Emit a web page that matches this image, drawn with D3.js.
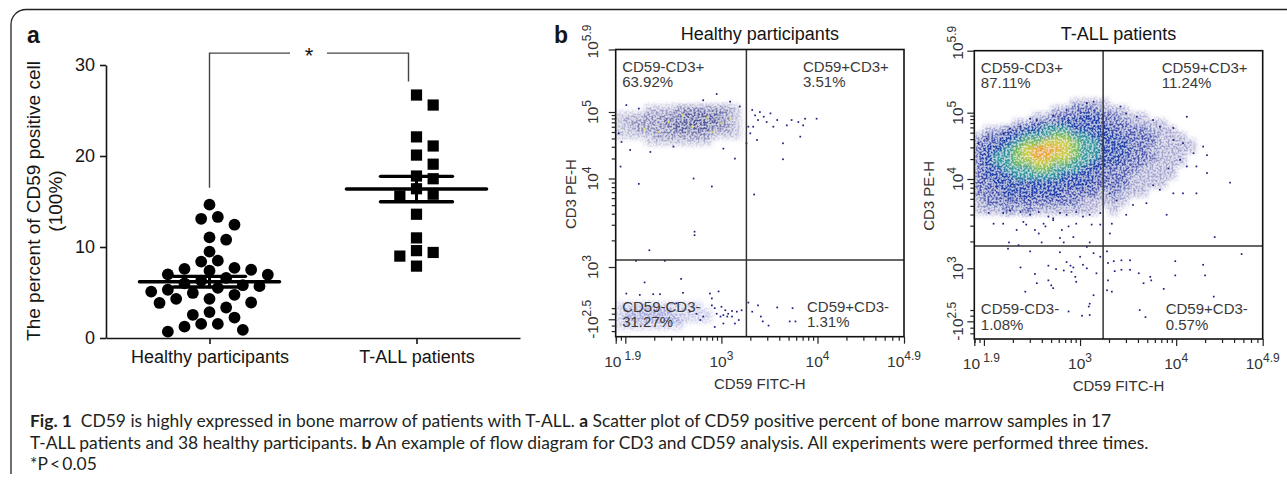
<!DOCTYPE html>
<html>
<head>
<meta charset="utf-8">
<script src="https://cdn.jsdelivr.net/npm/d3@7"></script>
<style>
  body { margin: 0; background: #fff; }
  svg { display: block; }
  text { font-family: "Liberation Sans", Arial, sans-serif; }
</style>
</head>
<body>
<svg width="1287" height="484"></svg>
<script>
// ----- panel a : scatter of CD59 positive percent -----
var groups = ["Healthy participants", "T-ALL patients"];
var healthyValues = [14.65, 13.3, 13.1, 12.45, 11.05, 10.8, 9.5, 8.5, 8.4, 7.7, 7.6, 7.5, 7.4, 7.0, 6.95,
  6.6, 6.3, 6.0, 5.8, 5.7, 5.5, 5.3, 5.1, 4.95, 4.75, 4.3, 4.3, 3.9, 3.85, 3.35, 2.85, 2.55, 2.25,
  1.55, 1.55, 1.25, 0.9, 0.7];
var tallValues = [26.7, 25.6, 22.1, 21.1, 20.1, 19.1, 17.8, 17.5, 16.4, 15.8, 15.6, 13.6, 11.0, 9.6, 9.4, 9.0, 7.9];
var yTicksA = [0, 10, 20, 30];

// ----- panel b : flow plots (log10 display units) -----
var panelTitles = ["Healthy participants", "T-ALL patients"];
var quadNames = ["CD59-CD3+", "CD59+CD3+", "CD59-CD3-", "CD59+CD3-"];
var healthyQuadPct = ["63.92%", "3.51%", "31.27%", "1.31%"];
var tallQuadPct = ["87.11%", "11.24%", "1.08%", "0.57%"];
var healthyGate = [3.26, 3.08];
var tallGate = [3.24, 3.25];
var xTickVals = [1.9, 3, 4, 4.9];
var xTickExp = ["1.9", "3", "4", "4.9"];
var yTickVals = [2.25, 3, 4, 5, 5.9];
var yTickBase = ["-10", "10", "10", "10", "10"];
var yTickExp = ["2.5", "3", "4", "5", "5.9"];

// density levels per 0.1 x 0.1 decade cell, rows listed from the top, columns from 10^1.9
var healthyGridTop = 5.1;
var healthyGrid = [
  "0001112222221",
  "1112222333321",
  "1222233333321",
  "1122223333221",
  "1111222222111",
  "0001111111000"
];
var healthyLowGridTop = 2.5;
var healthyLowGrid = [
  "1111111110000",
  "1222221111000",
  "1222222111000",
  "1111111000000"
];
var tallGridTop = 5.2;
var tallGrid = [
  "0000000000111100000000000",
  "0000000011222111000000000",
  "0000001122233221110000000",
  "0000112223333222111100000",
  "0112233444333322221110000",
  "1223344455443332222111000",
  "2233455666544333222111100",
  "2334567776544333221111100",
  "2344567766544333222111000",
  "2344556655443332221111000",
  "2334445544433222211110000",
  "2333444443333222111110000",
  "2233333333332222111100000",
  "2223333332222121110000000",
  "1222222222211111000000000",
  "1112121111111010000000000"
];

// single events [CD59, CD3]
var healthyEvents = [
  [2.95,5.26],[2.81,5.17],[3.09,5.15],[2.01,5.10],[2.14,5.05],[3.19,5.08],[1.93,4.68],[1.96,4.55],
  [2.05,4.43],[3.14,4.30],[3.02,4.45],[2.26,4.40],[2.50,4.48],[2.71,4.0],[2.90,3.91],[2.14,3.94],[1.95,4.18],
  [3.32,5.03],[3.35,4.95],[3.38,4.88],[3.40,5.0],[3.44,4.93],[3.47,4.85],[3.51,4.98],[3.54,4.78],[3.58,4.88],
  [3.33,4.78],[3.30,4.68],[3.37,4.58],[3.68,4.80],[3.73,4.88],[3.80,4.85],[3.85,4.80],[3.87,4.90],[3.99,4.90],
  [3.82,4.63],[3.64,4.53],[3.64,4.29],[3.26,4.53],[3.28,4.78],[3.34,3.82],
  [2.72,3.40],[2.72,3.36],[2.25,3.19],[2.11,3.07],[2.41,3.07],
  [2.20,2.78],[2.58,2.83],[2.36,2.61],[2.29,2.61],[2.15,2.60],[2.60,2.63],[2.88,2.62],[2.90,2.55],[2.97,2.65],
  [2.90,2.45],[2.93,2.41],[3.00,2.43],[3.04,2.38],[3.07,2.33],[3.11,2.37],[3.16,2.36],[3.21,2.38],[2.95,2.33],
  [2.99,2.29],[3.02,2.31],[3.06,2.29],[3.11,2.29],[3.14,2.19],[3.18,2.24],[2.93,2.14],[3.02,2.19],[2.74,2.33],
  [2.81,2.29],[2.67,2.36],[2.78,2.24],[2.01,2.62],[2.53,2.48],
  [3.28,2.49],[3.32,2.36],[3.38,2.45],[3.41,2.29],[3.43,2.22],[3.49,2.16],[3.58,2.42],[3.71,2.22],[3.77,2.22],[3.74,2.41]
];
var healthyYellow = [[2.45,4.85],[2.7,4.78],[2.85,4.92],[2.35,4.70],[3.0,4.83],[2.6,4.95],[2.2,4.75],[2.9,4.7],[3.1,4.9]];
var tallEvents = [
  [3.14,5.16],[3.07,5.14],[2.86,5.04],[2.72,4.96],[2.55,4.89],[2.38,4.79],[2.20,4.69],[2.03,4.61],[2.48,4.91],[2.27,4.76],[1.94,4.54],
  [3.42,5.09],[3.48,4.99],[3.59,4.94],[3.76,4.89],[3.83,4.79],[3.97,4.77],[4.11,4.94],[3.97,4.59],[4.07,4.54],
  [4.18,4.39],[4.28,4.49],[4.32,4.36],[4.21,4.19],[4.32,4.09],[4.56,3.96],[4.04,4.29],[3.92,4.16],[4.11,4.19],
  [2.05,3.62],[2.20,3.62],[2.27,3.65],[2.38,3.63],[2.48,3.60],[2.57,3.63],[2.67,3.58],[2.72,3.56],[2.79,3.62],
  [2.86,3.60],[2.96,3.63],[3.03,3.58],[3.10,3.60],[2.20,3.50],[2.41,3.52],[2.44,3.49],[2.53,3.43],[2.57,3.39],
  [2.62,3.50],[2.72,3.54],[2.64,3.47],[2.81,3.43],[2.88,3.47],[2.96,3.50],[3.12,3.49],[2.60,3.29],[2.83,3.29],
  [3.10,3.29],[3.21,3.49],[3.21,3.62],[2.26,3.29],[2.10,3.50],[2.34,3.43],[2.93,3.35],[2.79,3.34],
  [3.31,3.84],[3.38,3.76],[3.48,3.60],[3.55,3.71],[3.69,3.73],[3.90,3.60],[3.97,3.84],[4.07,3.84],[4.21,3.84],
  [4.40,3.35],[3.31,3.39],[3.33,3.50],[3.76,3.93],[3.83,3.88],
  [2.38,3.01],[2.53,2.92],[2.67,3.03],[2.75,2.99],[2.83,2.97],[2.90,3.03],[2.91,2.95],[2.95,2.88],[2.96,2.81],
  [3.0,3.13],[3.03,3.04],[3.07,3.0],[3.14,3.17],[2.67,2.83],[2.70,2.76],[2.72,2.72],[2.43,2.67],[2.55,2.79],
  [3.14,2.62],[3.10,2.50],[3.09,2.46],[3.02,2.33],[3.10,2.34],[2.86,3.07],[2.93,3.01],[2.48,3.19],[2.25,3.22],
  [2.36,3.26],[2.79,3.18],[3.07,3.24],[2.88,2.39],[3.17,2.93],[3.21,3.13],
  [3.28,3.19],[3.35,3.08],[3.36,2.96],[3.29,2.83],[3.33,2.67],[3.43,3.09],[3.52,3.09],[3.43,2.98],[3.52,2.98],
  [3.61,2.93],[3.66,2.79],[3.73,2.88],[3.74,2.83],[3.87,2.71],[3.99,3.08],[3.99,2.90],[4.28,3.04],[4.30,2.90],
  [4.68,3.16],[3.62,2.41],[3.68,2.31],[3.29,3.06],[3.28,2.69],[4.39,2.60]
];

var svg = d3.select("svg");
var ink = "#151515";

// soft density with a speckled grain, like single events in a dot plot
var flt = svg.append("defs").append("filter").attr("id", "soft")
  .attr("x", "-10%").attr("y", "-10%").attr("width", "120%").attr("height", "120%");
flt.append("feGaussianBlur").attr("in", "SourceGraphic").attr("stdDeviation", 2.4).attr("result", "b");
flt.append("feTurbulence").attr("type", "fractalNoise").attr("baseFrequency", 0.5)
  .attr("numOctaves", 1).attr("seed", 4).attr("result", "n");
flt.append("feColorMatrix").attr("in", "n").attr("type", "matrix")
  .attr("values", "0 0 0 0 1  0 0 0 0 1  0 0 0 0 1  0 0 0 6 -2.6").attr("result", "m");
flt.append("feComposite").attr("in", "b").attr("in2", "m").attr("operator", "arithmetic")
  .attr("k1", 0.85).attr("k2", 0.4).attr("k3", 0).attr("k4", 0);

// outer frame of the figure
svg.append("path")
  .attr("d", "M1290,9.5 H26 A15,15 0 0 0 11,24.5 V474")
  .attr("fill", "none").attr("stroke", "#222").attr("stroke-width", 1.3);

svg.append("text").attr("x", 27).attr("y", 43).attr("font-size", 23).attr("font-weight", "bold").attr("fill", ink).text("a");
svg.append("text").attr("x", 554).attr("y", 43).attr("font-size", 23).attr("font-weight", "bold").attr("fill", ink).text("b");

// ===== panel a =====
var yA = d3.scaleLinear().domain([0, 30]).range([338, 65]);
var xA = d3.scalePoint().domain(groups).range([106, 520]).padding(0.5);
var ga = svg.append("g");

ga.append("g")
  .attr("transform", "translate(106,0)")
  .call(d3.axisLeft(yA).tickValues(yTicksA).tickSize(6).tickSizeOuter(0).tickPadding(5))
  .call(function(s) {
    s.selectAll("path,line").attr("stroke", ink).attr("stroke-width", 1.6);
    s.selectAll("text").attr("font-size", 18).attr("fill", ink).attr("font-family", "Liberation Sans");
  });

ga.append("g")
  .attr("transform", "translate(0,338)")
  .call(d3.axisBottom(xA).tickSize(6).tickSizeOuter(0).tickPadding(6))
  .call(function(s) {
    s.selectAll("path,line").attr("stroke", ink).attr("stroke-width", 1.6);
    s.selectAll("text").attr("font-size", 18).attr("fill", ink).attr("font-family", "Liberation Sans");
  });

ga.append("text")
  .attr("transform", "translate(40,201) rotate(-90)")
  .attr("text-anchor", "middle").attr("font-size", 19).attr("fill", ink)
  .text("The percent of CD59 positive cell");
ga.append("text")
  .attr("transform", "translate(62,201) rotate(-90)")
  .attr("text-anchor", "middle").attr("font-size", 19).attr("fill", ink)
  .text("(100%)");

// significance bracket
var bx0 = xA(groups[0]), bx1 = xA(groups[1]) - 8;
ga.append("path")
  .attr("d", "M" + bx0 + "," + yA(16.5) + " V" + yA(31.3) + " H290 M327," + yA(31.3) + " H" + bx1 + " V" + yA(28.2))
  .attr("fill", "none").attr("stroke", "#444").attr("stroke-width", 1.4);
ga.append("text").attr("x", 309).attr("y", yA(31.3) + 10).attr("text-anchor", "middle")
  .attr("font-size", 22).attr("fill", ink).text("*");

// simple beeswarm so symbols do not overlap
function swarm(vals, cx, step, minDist) {
  var placed = [];
  vals.slice().sort(d3.descending).forEach(function(v) {
    var py = yA(v);
    for (var k = 0; k < 60; k++) {
      var off = k === 0 ? 0 : (k % 2 ? 1 : -1) * Math.ceil(k / 2) * step;
      var px = cx + off;
      var ok = placed.every(function(p) { return Math.hypot(p.x - px, p.y - py) >= minDist; });
      if (ok) { placed.push({ x: px, y: py, v: v }); break; }
    }
  });
  return placed;
}

var hPts = swarm(healthyValues, xA(groups[0]), 8.33, 12.3);
var tPts = swarm(tallValues, xA(groups[1]), 16.67, 11.8);

ga.selectAll(".hdot").data(hPts).enter().append("circle")
  .attr("class", "hdot")
  .attr("cx", function(d) { return d.x; })
  .attr("cy", function(d) { return d.y; })
  .attr("r", 5.9).attr("fill", "#000");

ga.selectAll(".tsq").data(tPts).enter().append("rect")
  .attr("class", "tsq")
  .attr("x", function(d) { return d.x - 5.6; })
  .attr("y", function(d) { return d.y - 5.6; })
  .attr("width", 11.2).attr("height", 11.2).attr("fill", "#000");

// mean and SEM
[healthyValues, tallValues].forEach(function(vals, i) {
  var cx = xA(groups[i]);
  var m = d3.mean(vals), sem = d3.deviation(vals) / Math.sqrt(vals.length);
  var g = ga.append("g").attr("stroke", "#000").attr("stroke-linecap", "round");
  g.append("line").attr("x1", cx - 70).attr("x2", cx + 70).attr("y1", yA(m)).attr("y2", yA(m)).attr("stroke-width", 3.6);
  g.append("line").attr("x1", cx).attr("x2", cx).attr("y1", yA(m + sem)).attr("y2", yA(m - sem)).attr("stroke-width", 3);
  [m + sem, m - sem].forEach(function(v) {
    g.append("line").attr("x1", cx - 36).attr("x2", cx + 36).attr("y1", yA(v)).attr("y2", yA(v)).attr("stroke-width", 3.4);
  });
});

// ===== panel b =====
var navy = "#1c1d7c";
var panels = [
  { id: "h", left: 615.7, right: 904, top: 49.5, y5: 112, y4: 178.5, y3: 267, bottom: 336.7, labGap: 18,
    title: panelTitles[0], pct: healthyQuadPct, gate: healthyGate,
    grids: [
      { top: healthyGridTop, rows: healthyGrid, pal: [["#1e1e7c", 0.26], ["#1e1e7c", 0.46], ["#2c2d80", 0.66]] },
      { top: healthyLowGridTop, rows: healthyLowGrid, pal: [["#b4b5e0", 0.6], ["#a0a2d8", 0.9]] }
    ],
    events: healthyEvents, yellow: healthyYellow },
  { id: "t", left: 974.3, right: 1262.7, top: 50.7, y5: 112.7, y4: 179, y3: 268.3, bottom: 339, labGap: 11,
    title: panelTitles[1], pct: tallQuadPct, gate: tallGate,
    grids: [
      { top: tallGridTop, rows: tallGrid, pal: [["#1b1f86", 0.32], ["#1b2896", 0.65], ["#2340a6", 0.9], ["#2f8f98", 0.95],
        ["#71b44e", 1], ["#c2c23c", 1], ["#e19a32", 1]] }
    ],
    events: tallEvents, yellow: [] }
];

panels.forEach(function(p) {
  var x = d3.scaleLinear().domain([1.9, 4.9]).range([p.left, p.right]);
  var y = d3.scaleLinear().domain([2, 3, 4, 5, 5.9]).range([p.bottom, p.y3, p.y4, p.y5, p.top]);
  var g = svg.append("g");

  g.append("clipPath").attr("id", "clip" + p.id).append("rect")
    .attr("x", p.left).attr("y", p.top).attr("width", p.right - p.left).attr("height", p.bottom - p.top);
  var plot = g.append("g").attr("clip-path", "url(#clip" + p.id + ")");

  // density cells
  var cells = [];
  p.grids.forEach(function(gr) {
    gr.rows.forEach(function(row, i) {
      row.split("").forEach(function(c, j) {
        if (+c > 0) cells.push({ x0: 1.9 + 0.1 * j, y1: gr.top - 0.1 * i, lv: +c, pal: gr.pal });
      });
    });
  });
  plot.append("g").attr("filter", "url(#soft)")
    .selectAll("rect").data(cells).enter().append("rect")
    .attr("x", function(d) { return x(d.x0); })
    .attr("y", function(d) { return y(d.y1); })
    .attr("width", function(d) { return x(d.x0 + 0.1) - x(d.x0); })
    .attr("height", function(d) { return y(d.y1 - 0.1) - y(d.y1); })
    .attr("fill", function(d) { return d.pal[d.lv - 1][0]; })
    .attr("fill-opacity", function(d) { return d.pal[d.lv - 1][1]; });

  plot.selectAll(".ev").data(p.events).enter().append("rect")
    .attr("class", "ev")
    .attr("x", function(d) { return x(d[0]) - 0.8; })
    .attr("y", function(d) { return y(d[1]) - 0.8; })
    .attr("width", 1.7).attr("height", 1.7).attr("fill", navy);
  plot.selectAll(".yev").data(p.yellow).enter().append("rect")
    .attr("class", "yev")
    .attr("x", function(d) { return x(d[0]) - 0.9; })
    .attr("y", function(d) { return y(d[1]) - 0.9; })
    .attr("width", 1.9).attr("height", 1.9).attr("fill", "#e6dc5a");

  // quadrant gate
  g.append("line").attr("x1", x(p.gate[0])).attr("x2", x(p.gate[0])).attr("y1", p.top).attr("y2", p.bottom)
    .attr("stroke", "#333").attr("stroke-width", 1.5);
  g.append("line").attr("x1", p.left).attr("x2", p.right).attr("y1", y(p.gate[1])).attr("y2", y(p.gate[1]))
    .attr("stroke", "#333").attr("stroke-width", 1.5);

  g.append("rect").attr("x", p.left).attr("y", p.top).attr("width", p.right - p.left).attr("height", p.bottom - p.top)
    .attr("fill", "none").attr("stroke", "#111").attr("stroke-width", 1.6);

  // axis ticks
  var xMinor = [], yMinor = [];
  [1, 2, 3, 4].forEach(function(d) {
    d3.range(2, 10).forEach(function(k) {
      var v = d + Math.log10(k);
      if (v > 1.9 && v < 4.9) xMinor.push(v);
      if (d >= 3 && v < 5.9) yMinor.push(v);
    });
  });
  yMinor = yMinor.concat([2.08, 2.16, 2.33, 2.41]);
  function tickStyle(s) {
    s.select(".domain").remove();
    s.selectAll("line").attr("stroke", "#222").attr("stroke-width", 1.2);
  }
  g.append("g").attr("transform", "translate(0," + p.bottom + ")")
    .call(d3.axisBottom(x).tickValues(xMinor).tickSize(4).tickFormat("")).call(tickStyle);
  g.append("g").attr("transform", "translate(0," + p.bottom + ")")
    .call(d3.axisBottom(x).tickValues([1.9, 2, 3, 4, 4.9]).tickSize(7).tickFormat("")).call(tickStyle);
  g.append("g").attr("transform", "translate(" + p.left + ",0)")
    .call(d3.axisLeft(y).tickValues(yMinor).tickSize(4).tickFormat("")).call(tickStyle);
  g.append("g").attr("transform", "translate(" + p.left + ",0)")
    .call(d3.axisLeft(y).tickValues(yTickVals).tickSize(7).tickFormat("")).call(tickStyle);

  // tick labels with exponents
  xTickVals.forEach(function(v, i) {
    var t = g.append("text").attr("x", x(v) + (i === 0 ? 7 : 0)).attr("y", p.bottom + 30)
      .attr("text-anchor", "middle").attr("font-size", 15.5).attr("fill", "#333");
    t.append("tspan").text("10" + (i === 0 ? "\u2009" : ""));
    t.append("tspan").attr("dy", -7).attr("font-size", 12).text(xTickExp[i]);
  });
  yTickVals.forEach(function(v, i) {
    var t = g.append("text")
      .attr("transform", "translate(" + (p.left - p.labGap) + "," + (y(v) - (i === 4 ? 8 : 0)) + ") rotate(-90)")
      .attr("text-anchor", "middle").attr("font-size", 15.5).attr("fill", "#333");
    t.append("tspan").text(yTickBase[i]);
    t.append("tspan").attr("dy", -7).attr("font-size", 12).text(yTickExp[i]);
  });

  g.append("text").attr("x", (p.left + p.right) / 2).attr("y", p.bottom + 52)
    .attr("text-anchor", "middle").attr("font-size", 15).attr("fill", "#333").text("CD59 FITC-H");
  g.append("text").attr("transform", "translate(" + (p.left - 40) + "," + ((p.top + p.bottom) / 2 + 1) + ") rotate(-90)")
    .attr("text-anchor", "middle").attr("font-size", 15).attr("fill", "#333").text("CD3 PE-H");
  g.append("text").attr("x", (p.left + p.right) / 2).attr("y", 40)
    .attr("text-anchor", "middle").attr("font-size", 18).attr("fill", ink).text(p.title);

  // quadrant labels
  var qx = [p.left + 6.5, p.right - 101, p.left + 6.5, p.right - 97];
  var qy = [p.top + 22, p.top + 22, p.bottom - 25, p.bottom - 25];
  quadNames.forEach(function(n, i) {
    var t = g.append("text").attr("x", qx[i]).attr("y", qy[i]).attr("font-size", 15).attr("fill", "#3a3a3a");
    t.append("tspan").text(n);
    t.append("tspan").attr("x", qx[i]).attr("dy", 15.5).text(p.pct[i]);
  });
});

// ===== caption =====
var capLines = [
  [["Fig. 1", true], ["  CD59 is highly expressed in bone marrow of patients with T-ALL. ", false], ["a", true],
   [" Scatter plot of CD59 positive percent of bone marrow samples in 17", false]],
  [["T-ALL patients and 38 healthy participants. ", false], ["b", true],
   [" An example of flow diagram for CD3 and CD59 analysis. All experiments were performed three times.", false]],
  [["*P\u2009<\u20090.05", false]]
];
var capY = [427, 448.5, 470];
var caps = capLines.map(function(parts, i) {
  var t = svg.append("text").attr("x", 30).attr("y", capY[i]).attr("font-size", 16)
    .attr("fill", "#231f20").attr("xml:space", "preserve").style("font-family", "Lato, 'Open Sans', sans-serif");
  parts.forEach(function(pt) {
    t.append("tspan").attr("font-weight", pt[1] ? "bold" : null).text(pt[0]);
  });
  return t;
});
var fs = 16 * 1082 / caps[0].node().getComputedTextLength();
caps.forEach(function(t) { t.attr("font-size", fs); });
</script>
</body>
</html>
